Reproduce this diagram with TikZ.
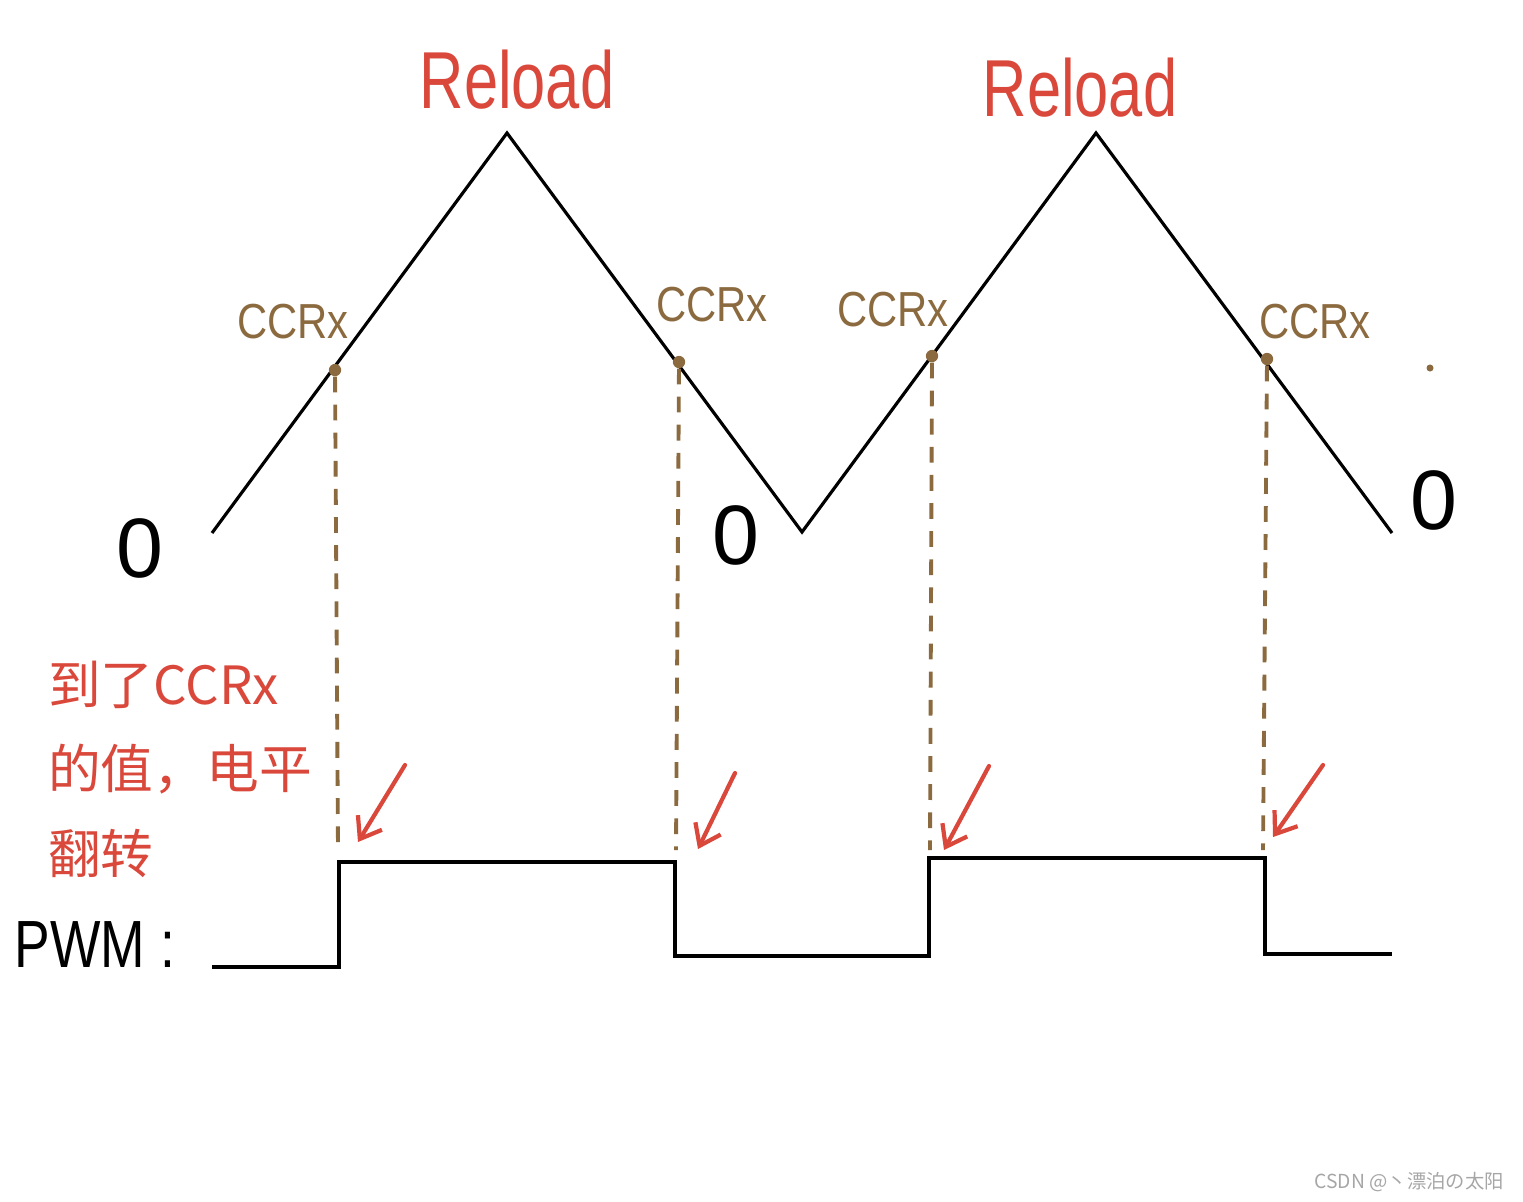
\documentclass[tikz,border=0pt]{standalone}
\usetikzlibrary{arrows.meta}
\usepackage{graphicx}
\usepackage{fontspec}
\setmainfont{Liberation Sans}
\newfontfamily\cjk{Noto Sans CJK SC}
\definecolor{myred}{HTML}{D9483B}
\definecolor{mybrown}{HTML}{8C6A3F}
\newcommand{\narrow}[2]{\scalebox{#1}[1]{#2}}
\begin{document}
\begin{tikzpicture}[x=0.02cm,y=-0.02cm,
  wave/.style={line width=1.8pt,black,line join=miter},
  guide/.style={mybrown,line width=2.2pt,dash pattern=on 9pt off 7pt},
  flip/.style={myred,line width=2.4pt,line cap=round,-{Straight Barb[length=11pt,width=16pt]}},
  redlbl/.style={myred,font=\fontsize{46}{50}\selectfont},
  ccrlbl/.style={mybrown,font=\fontsize{28}{30}\selectfont},
  zero/.style={black,font=\fontsize{48}{50}\selectfont},
  dotp/.style={circle,fill=mybrown,inner sep=0pt,minimum size=7pt}]
\useasboundingbox (0,0) rectangle (1523,1201);
% triangle wave
\coordinate (w0) at (212,533);
\coordinate (w1) at (507,133);
\coordinate (w2) at (802,532);
\coordinate (w3) at (1096,133);
\coordinate (w4) at (1392,533);
\draw[wave] (w0) -- (w1) -- (w2) -- (w3) -- (w4);
% CCR points
\node[dotp] (c1) at (335,370) {};
\node[dotp] (c2) at (679,362) {};
\node[dotp] (c3) at (932,356) {};
\node[dotp] (c4) at (1267,359) {};
% PWM
\coordinate (p0) at (212,967);
\coordinate (p1) at (339,967);
\coordinate (p2) at (339,862);
\coordinate (p3) at (675,862);
\coordinate (p4) at (675,956);
\coordinate (p5) at (929,956);
\coordinate (p6) at (929,858);
\coordinate (p7) at (1265,858);
\coordinate (p8) at (1265,954);
\coordinate (p9) at (1392,954);
\draw[wave] (p0) -- (p1) -- (p2) -- (p3) -- (p4) -- (p5) -- (p6) -- (p7) -- (p8) -- (p9);
% guides
\coordinate (g1) at (338,850);
\coordinate (g2) at (676,850);
\coordinate (g3) at (930,850);
\coordinate (g4) at (1263,850);
\draw[guide] (c1) -- (g1);
\draw[guide] (c2) -- (g2);
\draw[guide] (c3) -- (g3);
\draw[guide] (c4) -- (g4);
% red arrows
\coordinate (a1s) at (405,765); \coordinate (a1e) at (358,842);
\coordinate (a2s) at (735,773); \coordinate (a2e) at (698,849);
\coordinate (a3s) at (989,766); \coordinate (a3e) at (944,850);
\coordinate (a4s) at (1323,765); \coordinate (a4e) at (1273,837);
\draw[flip] (a1s) -- (a1e);
\draw[flip] (a2s) -- (a2e);
\draw[flip] (a3s) -- (a3e);
\draw[flip] (a4s) -- (a4e);
% labels
\node[redlbl] (r1) at (517,80) {\narrow{0.76}{Reload}};
\node[redlbl] (r2) at (1080,88) {\narrow{0.76}{Reload}};
\node[ccrlbl] (l1) at (293,322) {\narrow{0.85}{CCRx}};
\node[ccrlbl] (l2) at (712,305) {\narrow{0.85}{CCRx}};
\node[ccrlbl] (l3) at (893,310) {\narrow{0.85}{CCRx}};
\node[ccrlbl] (l4) at (1315,322) {\narrow{0.85}{CCRx}};
\node[zero] (z1) at (140,548) {0};
\node[zero] (z2) at (736,535) {0};
\node[zero] (z3) at (1434,500) {0};
\node[black,font=\fontsize{38}{44}\selectfont] (pwm) at (95,945) {\narrow{0.8}{PWM :}};
\node[myred,font=\cjk\fontsize{30}{48}\selectfont,align=left,anchor=north west] (note) at (42,655) {到了CCRx\\的值，电平\\翻转};
\node[circle,fill=mybrown,inner sep=0pt,minimum size=4pt] (dot) at (1430,368) {};
\node[gray!70,font=\cjk\fontsize{11}{12}\selectfont,anchor=east] (wm) at (1510,1182) {CSDN @丶漂泊の太阳};
\end{tikzpicture}
\end{document}
